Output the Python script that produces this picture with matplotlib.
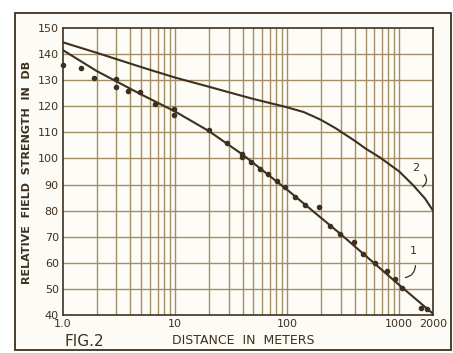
import numpy as np
import matplotlib.pyplot as plt
from matplotlib.patches import Rectangle, FancyArrowPatch

# curve 2 (upper)
dist_2 = [1, 2, 5, 10, 20, 30, 50, 100, 140, 170, 200, 270, 400, 500, 677, 1000, 1340, 1700, 2000]
db_2 = [144.5, 140.5, 135.0, 131.0, 127.5, 125.4, 122.8, 119.6, 117.8, 116.2, 114.8, 111.6, 106.8,
        103.8, 100.3, 95.0, 89.6, 84.6, 80.0]

# curve 1 (lower)
dist_1 = [1, 2, 5, 10, 20, 40, 100, 300, 1000, 2000]
db_1 = [141.5, 133.5, 124.5, 118.0, 110.5, 101.5, 88.0, 71.0, 51.5, 40.5]

# measured points
meas_d = [1.0, 1.45, 1.9, 2.95, 2.95, 3.8, 4.9, 6.6, 9.7, 9.7, 19.9, 29, 39.5, 39.5, 48, 57, 68, 81,
          96, 118, 144, 194, 241, 297, 391, 479, 612, 777, 920, 1055, 1550, 1770]
meas_db = [135.8, 134.5, 131.0, 130.6, 127.4, 125.9, 125.3, 121.0, 119.1, 116.5, 110.8, 106.0, 101.8,
           100.5, 98.6, 96.0, 94.1, 91.5, 89.2, 85.4, 82.0, 81.3, 74.2, 71.0, 67.8, 63.3, 60.1, 56.9,
           53.7, 50.5, 42.8, 42.2]

y_ticks = [40, 50, 60, 70, 80, 90, 100, 110, 120, 130, 140, 150]
x_ticks = [1, 10, 100, 1000, 2000]
x_ticklabels = ["1.0", "10", "100", "1000", "2000"]

ink = "#3d3020"
grid_c = "#a38f66"

fig = plt.figure(figsize=(4.53, 3.53), dpi=100)
fig.patch.set_facecolor("white")
frame = Rectangle((15 / 453, 3 / 353), 436 / 453, 337 / 353, transform=fig.transFigure,
                  facecolor="#fcfbf5", edgecolor=ink, linewidth=1.3, zorder=-5)
fig.patches.append(frame)

ax = fig.add_axes([63 / 453, 38 / 353, 370 / 453, 287 / 353])
ax.set_zorder(2)
ax.set_facecolor("#fdfcf6")
ax.set_xscale("log")
ax.set_xlim(1, 2000)
ax.set_ylim(40, 150)

# grid lines: 1..9 per decade up to 1000
for dec in [1, 10, 100]:
    for k in range(2, 11):
        ax.axvline(k * dec, color=grid_c, lw=1.0, zorder=1)
for yv in y_ticks[1:-1]:
    ax.axhline(yv, color=grid_c, lw=1.0, zorder=1)

ax.plot(dist_2, db_2, color=ink, lw=1.5, zorder=3)
ax.plot(dist_1, db_1, color=ink, lw=1.5, zorder=3)
ax.plot(meas_d, meas_db, "o", color=ink, ms=3.0, mfc=ink, mec=ink, zorder=4, clip_on=False)

ax.set_yticks(y_ticks)
ax.set_xticks(x_ticks)
ax.set_xticklabels(x_ticklabels)
ax.minorticks_off()
ax.tick_params(length=0, pad=3, labelsize=8, colors=ink)
for s in ax.spines.values():
    s.set_color(ink)
    s.set_linewidth(1.2)

# curve labels with hooked leaders
ax.text(1330, 64.6, "1", fontsize=8, color=ink, ha="center", va="center")
ax.add_patch(FancyArrowPatch((1390, 60), (1070, 54.2), connectionstyle="arc3,rad=-0.5",
                             arrowstyle="-", color=ink, lw=0.9, zorder=5))
ax.text(1390, 96.5, "2", fontsize=8, color=ink, ha="center", va="center")
ax.add_patch(FancyArrowPatch((1630, 94.6), (1540, 88.5), connectionstyle="arc3,rad=-0.6",
                             arrowstyle="-", color=ink, lw=0.9, zorder=5))

fig.text(27 / 453, 1 - 172 / 353, "RELATIVE  FIELD  STRENGTH  IN  DB", rotation=90,
         ha="center", va="center", fontsize=8, fontweight="bold", color=ink)
fig.text(65 / 453, 1 - 341 / 353, "FIG.2", fontsize=11, color=ink, va="center")
fig.text(243 / 453, 1 - 341 / 353, "DISTANCE  IN  METERS", fontsize=9, color=ink,
         ha="center", va="center")

fig.savefig("out.png", dpi=100)
